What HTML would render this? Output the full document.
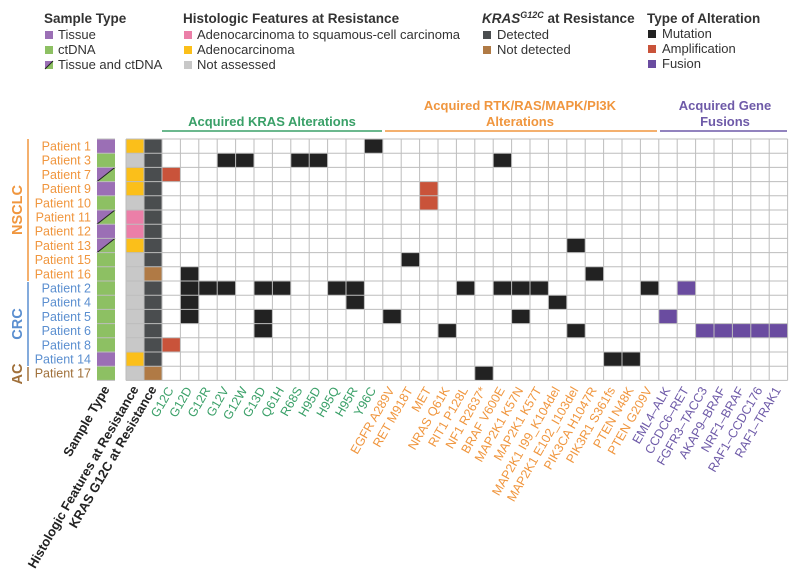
<!DOCTYPE html>
<html><head><meta charset="utf-8"><style>
html,body{margin:0;padding:0;background:#fff;}
svg{display:block;font-family:"Liberation Sans",sans-serif;}
</style></head><body>
<svg width="800" height="578" viewBox="0 0 800 578" xmlns="http://www.w3.org/2000/svg">
<!-- Legend -->
<g font-size="13" fill="#333">
<text x="44" y="23" font-weight="bold" font-size="13.5">Sample Type</text>
<rect x="45" y="31" width="8" height="8" fill="#9b6fb5"/><text x="58" y="39">Tissue</text>
<rect x="45" y="46" width="8" height="8" fill="#8dc063"/><text x="58" y="54">ctDNA</text>
<polygon points="45,61 53,61 45,69" fill="#9b6fb5"/><polygon points="53,61 53,69 45,69" fill="#8dc063"/><line x1="45" y1="69" x2="53" y2="61" stroke="#222" stroke-width="1"/><text x="58" y="69">Tissue and ctDNA</text>

<text x="183" y="23" font-weight="bold" font-size="13.5">Histologic Features at Resistance</text>
<rect x="184" y="31" width="8" height="8" fill="#eb7fa8"/><text x="197" y="39">Adenocarcinoma to squamous-cell carcinoma</text>
<rect x="184" y="46" width="8" height="8" fill="#fbbf1a"/><text x="197" y="54">Adenocarcinoma</text>
<rect x="184" y="61" width="8" height="8" fill="#c8c8c8"/><text x="197" y="69">Not assessed</text>

<text x="482" y="23" font-weight="bold" font-size="13.5"><tspan font-style="italic">KRAS</tspan><tspan font-size="9" dy="-5" font-style="italic">G12C</tspan><tspan dy="5"> at Resistance</tspan></text>
<rect x="483" y="31" width="8" height="8" fill="#4a4d4f"/><text x="497" y="39">Detected</text>
<rect x="483" y="46" width="8" height="8" fill="#b07a45"/><text x="497" y="54">Not detected</text>

<text x="647" y="23" font-weight="bold" font-size="13.5">Type of Alteration</text>
<rect x="648" y="30" width="8" height="8" fill="#222"/><text x="662" y="38">Mutation</text>
<rect x="648" y="45" width="8" height="8" fill="#c9533a"/><text x="662" y="53">Amplification</text>
<rect x="648" y="60" width="8" height="8" fill="#6a4ca0"/><text x="662" y="68">Fusion</text>
</g>

<!-- Section headers -->
<g font-size="13" font-weight="bold" text-anchor="middle">
<text x="272" y="126" fill="#3aa068">Acquired KRAS Alterations</text>
<line x1="162" y1="131" x2="382" y2="131" stroke="#3aa068" stroke-width="1.5"/>
<text x="520" y="110" fill="#f0963e">Acquired RTK/RAS/MAPK/PI3K</text>
<text x="520" y="126" fill="#f0963e">Alterations</text>
<line x1="385" y1="131" x2="657" y2="131" stroke="#f0963e" stroke-width="1.5"/>
<text x="725" y="110" fill="#6e5aa8">Acquired Gene</text>
<text x="725" y="126" fill="#6e5aa8">Fusions</text>
<line x1="660" y1="131" x2="787" y2="131" stroke="#6e5aa8" stroke-width="1.5"/>
</g>

<!-- Group brackets -->
<line x1="28" y1="139" x2="28" y2="281" stroke="#f0963e" stroke-width="1.5"/>
<line x1="28" y1="282" x2="28" y2="366" stroke="#5b8fd0" stroke-width="1.5"/>
<line x1="28" y1="367" x2="28" y2="381" stroke="#a0703a" stroke-width="1.5"/>
<g font-size="14.5" font-weight="bold" text-anchor="middle">
<text transform="translate(22,210) rotate(-90)" fill="#f0963e">NSCLC</text>
<text transform="translate(22,324) rotate(-90)" fill="#5b8fd0">CRC</text>
<text transform="translate(22,374) rotate(-90)" fill="#a0703a">AC</text>
</g>

<!-- Patient labels -->
<g font-size="12.5" text-anchor="end">
<g fill="#f0963e">
<text x="91" y="150.5">Patient 1</text>
<text x="91" y="164.7">Patient 3</text>
<text x="91" y="178.9">Patient 7</text>
<text x="91" y="193.1">Patient 9</text>
<text x="91" y="207.3">Patient 10</text>
<text x="91" y="221.5">Patient 11</text>
<text x="91" y="235.7">Patient 12</text>
<text x="91" y="249.9">Patient 13</text>
<text x="91" y="264.1">Patient 15</text>
<text x="91" y="278.3">Patient 16</text>
</g>
<g fill="#5b8fd0">
<text x="91" y="292.5">Patient 2</text>
<text x="91" y="306.7">Patient 4</text>
<text x="91" y="320.9">Patient 5</text>
<text x="91" y="335.1">Patient 6</text>
<text x="91" y="349.3">Patient 8</text>
<text x="91" y="363.5">Patient 14</text>
</g>
<text x="91" y="377.7" fill="#a0703a">Patient 17</text>
</g>

<!-- Sample type column -->
<g transform="translate(97,139) scale(18,14.2)">
<rect x="0" y="0" width="1" height="1" fill="#9b6fb5"/>
<rect x="0" y="1" width="1" height="1" fill="#8dc063"/>
<polygon points="0,2 1,2 0,3" fill="#9b6fb5"/><polygon points="1,2 1,3 0,3" fill="#8dc063"/>
<rect x="0" y="3" width="1" height="1" fill="#9b6fb5"/>
<rect x="0" y="4" width="1" height="1" fill="#8dc063"/>
<polygon points="0,5 1,5 0,6" fill="#9b6fb5"/><polygon points="1,5 1,6 0,6" fill="#8dc063"/>
<rect x="0" y="6" width="1" height="1" fill="#9b6fb5"/>
<polygon points="0,7 1,7 0,8" fill="#9b6fb5"/><polygon points="1,7 1,8 0,8" fill="#8dc063"/>
<rect x="0" y="8" width="1" height="7" fill="#8dc063"/>
<rect x="0" y="15" width="1" height="1" fill="#9b6fb5"/>
<rect x="0" y="16" width="1" height="1" fill="#8dc063"/>
<g stroke="#222" stroke-width="1">
<line x1="0" y1="3" x2="1" y2="2" vector-effect="non-scaling-stroke"/>
<line x1="0" y1="6" x2="1" y2="5" vector-effect="non-scaling-stroke"/>
<line x1="0" y1="8" x2="1" y2="7" vector-effect="non-scaling-stroke"/>
</g>
</g>

<!-- Histology + KRAS columns -->
<g transform="translate(126,139) scale(18,14.2)">
<rect x="0" y="0" width="1" height="17" fill="#c8c8c8"/>
<rect x="0" y="0" width="1" height="1" fill="#fbbf1a"/>
<rect x="0" y="2" width="1" height="2" fill="#fbbf1a"/>
<rect x="0" y="5" width="1" height="2" fill="#eb7fa8"/>
<rect x="0" y="7" width="1" height="1" fill="#fbbf1a"/>
<rect x="0" y="15" width="1" height="1" fill="#fbbf1a"/>
<rect x="1" y="0" width="1" height="17" fill="#4a4d4f"/>
<rect x="1" y="9" width="1" height="1" fill="#b07a45"/>
<rect x="1" y="16" width="1" height="1" fill="#b07a45"/>
</g>

<!-- Main grid marks -->
<g transform="translate(162,139) scale(18.4,14.2)">
<g fill="#222">
<rect x="11" y="0" width="1" height="1"/>
<rect x="3" y="1" width="2" height="1"/><rect x="7" y="1" width="2" height="1"/><rect x="18" y="1" width="1" height="1"/>
<rect x="22" y="7" width="1" height="1"/>
<rect x="13" y="8" width="1" height="1"/>
<rect x="1" y="9" width="1" height="1"/><rect x="23" y="9" width="1" height="1"/>
<rect x="1" y="10" width="3" height="1"/><rect x="5" y="10" width="2" height="1"/><rect x="9" y="10" width="2" height="1"/><rect x="16" y="10" width="1" height="1"/><rect x="18" y="10" width="3" height="1"/><rect x="26" y="10" width="1" height="1"/>
<rect x="1" y="11" width="1" height="1"/><rect x="10" y="11" width="1" height="1"/><rect x="21" y="11" width="1" height="1"/>
<rect x="1" y="12" width="1" height="1"/><rect x="5" y="12" width="1" height="1"/><rect x="12" y="12" width="1" height="1"/><rect x="19" y="12" width="1" height="1"/>
<rect x="5" y="13" width="1" height="1"/><rect x="15" y="13" width="1" height="1"/><rect x="22" y="13" width="1" height="1"/>
<rect x="24" y="15" width="2" height="1"/>
<rect x="17" y="16" width="1" height="1"/>
</g>
<g fill="#c9533a">
<rect x="0" y="2" width="1" height="1"/>
<rect x="14" y="3" width="1" height="2"/>
<rect x="0" y="14" width="1" height="1"/>
</g>
<g fill="#6a4ca0">
<rect x="28" y="10" width="1" height="1"/>
<rect x="27" y="12" width="1" height="1"/>
<rect x="29" y="13" width="5" height="1"/>
</g>
</g>

<!-- Grid lines -->
<g stroke="#bdbdbd" stroke-width="1">
<path d="M97,139H115M97,153.2H115M97,167.4H115M97,181.6H115M97,195.8H115M97,210H115M97,224.2H115M97,238.4H115M97,252.6H115M97,266.8H115M97,281H115M97,295.2H115M97,309.4H115M97,323.6H115M97,337.8H115M97,352H115M97,366.2H115M97,380.4H115"/>
<path d="M126,139H787.6M126,153.2H787.6M126,167.4H787.6M126,181.6H787.6M126,195.8H787.6M126,210H787.6M126,224.2H787.6M126,238.4H787.6M126,252.6H787.6M126,266.8H787.6M126,281H787.6M126,295.2H787.6M126,309.4H787.6M126,323.6H787.6M126,337.8H787.6M126,352H787.6M126,366.2H787.6M126,380.4H787.6"/>
<path d="M126,139V380.4M144,139V380.4M162,139V380.4M180.4,139V380.4M198.8,139V380.4M217.2,139V380.4M235.6,139V380.4M254,139V380.4M272.4,139V380.4M290.8,139V380.4M309.2,139V380.4M327.6,139V380.4M346,139V380.4M364.4,139V380.4M382.8,139V380.4M401.2,139V380.4M419.6,139V380.4M438,139V380.4M456.4,139V380.4M474.8,139V380.4M493.2,139V380.4M511.6,139V380.4M530,139V380.4M548.4,139V380.4M566.8,139V380.4M585.2,139V380.4M603.6,139V380.4M622,139V380.4M640.4,139V380.4M658.8,139V380.4M677.2,139V380.4M695.6,139V380.4M714,139V380.4M732.4,139V380.4M750.8,139V380.4M769.2,139V380.4M787.6,139V380.4"/>
</g>

<!-- Left column labels -->
<g font-size="13" font-weight="bold" fill="#222" text-anchor="end">
<text transform="translate(110,389) rotate(-60)">Sample Type</text>
<text transform="translate(139,389) rotate(-60)">Histologic Features at Resistance</text>
<text transform="translate(157,389) rotate(-60)">KRAS G12C at Resistance</text>
</g>

<!-- Column labels -->
<g font-size="12.5" text-anchor="end">
<g fill="#3aa068">
<text transform="translate(174,390) rotate(-60)">G12C</text>
<text transform="translate(192.4,390) rotate(-60)">G12D</text>
<text transform="translate(210.8,390) rotate(-60)">G12R</text>
<text transform="translate(229.2,390) rotate(-60)">G12V</text>
<text transform="translate(247.6,390) rotate(-60)">G12W</text>
<text transform="translate(266,390) rotate(-60)">G13D</text>
<text transform="translate(284.4,390) rotate(-60)">Q61H</text>
<text transform="translate(302.8,390) rotate(-60)">R68S</text>
<text transform="translate(321.2,390) rotate(-60)">H95D</text>
<text transform="translate(339.6,390) rotate(-60)">H95Q</text>
<text transform="translate(358,390) rotate(-60)">H95R</text>
<text transform="translate(376.4,390) rotate(-60)">Y96C</text>
</g>
<g fill="#f0963e">
<text transform="translate(394.8,390) rotate(-60)">EGFR A289V</text>
<text transform="translate(413.2,390) rotate(-60)">RET M918T</text>
<text transform="translate(431.6,390) rotate(-60)">MET</text>
<text transform="translate(450,390) rotate(-60)">NRAS Q61K</text>
<text transform="translate(468.4,390) rotate(-60)">RIT1 P128L</text>
<text transform="translate(486.8,390) rotate(-60)">NF1 R2637*</text>
<text transform="translate(505.2,390) rotate(-60)">BRAF V600E</text>
<text transform="translate(523.6,390) rotate(-60)">MAP2K1 K57N</text>
<text transform="translate(542,390) rotate(-60)">MAP2K1 K57T</text>
<text transform="translate(560.4,390) rotate(-60)">MAP2K1 I99_K104del</text>
<text transform="translate(578.8,390) rotate(-60)">MAP2K1 E102_I103del</text>
<text transform="translate(597.2,390) rotate(-60)">PIK3CA H1047R</text>
<text transform="translate(615.6,390) rotate(-60)">PIK3R1 S361fs</text>
<text transform="translate(634,390) rotate(-60)">PTEN N48K</text>
<text transform="translate(652.4,390) rotate(-60)">PTEN G209V</text>
</g>
<g fill="#6e5aa8">
<text transform="translate(670.8,390) rotate(-60)">EML4–ALK</text>
<text transform="translate(689.2,390) rotate(-60)">CCDC6–RET</text>
<text transform="translate(707.6,390) rotate(-60)">FGFR3–TACC3</text>
<text transform="translate(726,390) rotate(-60)">AKAP9–BRAF</text>
<text transform="translate(744.4,390) rotate(-60)">NRF1–BRAF</text>
<text transform="translate(762.8,390) rotate(-60)">RAF1–CCDC176</text>
<text transform="translate(781.2,390) rotate(-60)">RAF1–TRAK1</text>
</g>
</g>
</svg>
</body></html>
